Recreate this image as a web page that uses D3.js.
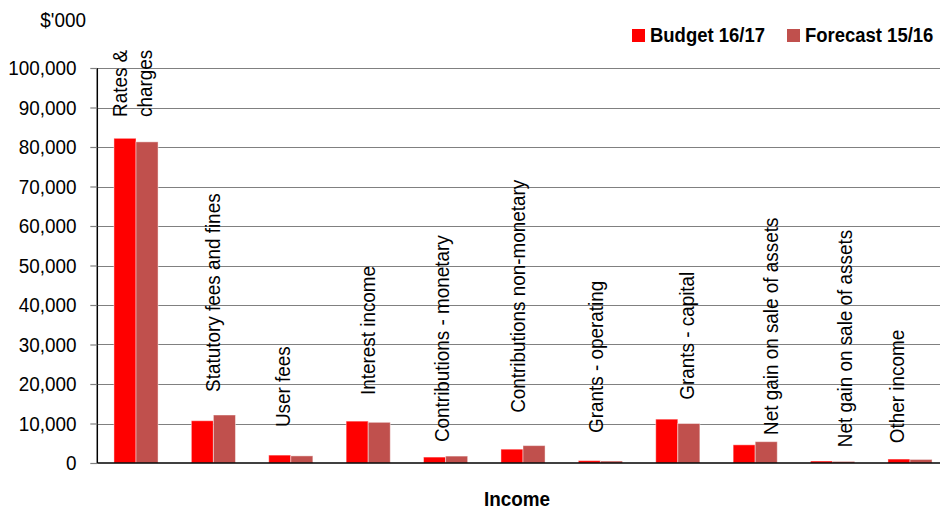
<!DOCTYPE html>
<html>
<head>
<meta charset="utf-8">
<script src="https://cdn.jsdelivr.net/npm/d3@7"></script>
<style>
  body { margin: 0; background: #fff; }
  svg { display: block; font-family: "Liberation Sans", Arial, sans-serif; }
</style>
</head>
<body>
<div id="chart"></div>
<script>
// income categories (two-line label uses \n)
let categories = ["Rates &\ncharges", "Statutory fees and fines", "User fees", "Interest income",
    "Contributions - monetary", "Contributions non-monetary", "Grants - operating",
    "Grants - capital", "Net gain on sale of assets", "Net gain on sale of assets", "Other income"];
let seriesNames = ["Budget 16/17", "Forecast 15/16"];
let budget = [82200, 10700, 2000, 10600, 1500, 3500, 600, 11100, 4600, 500, 1000];
let forecast = [81300, 12150, 1800, 10300, 1750, 4400, 500, 10000, 5400, 400, 900];
// value where each rotated category label starts (labels sit above the bars)
let labelStart = [87600, 18000, 9100, 17200, 5300, 12700, 7600, 16000, 7100, 4000, 5000];
let yTicks = [0, 10000, 20000, 30000, 40000, 50000, 60000, 70000, 80000, 90000, 100000];

// label nudges (px) - labels were dragged around by hand in the original
let labelNudge = [-4, -1, -8, -1, -4, -5, -5, 9, 15, 12, -13];

const width = 940, height = 510;
const margin = {top: 68, left: 97.3, bottom: 47};
const plotW = 851.4;
const colors = {"Budget 16/17": "#ff0000", "Forecast 15/16": "#c0504d"};
// the original font is a bit condensed: bigger size, squeezed along the text
const fontSize = "21px", squeeze = 0.9;

const svg = d3.select("#chart").append("svg")
    .attr("width", width)
    .attr("height", height);

const y = d3.scaleLinear()
    .domain([0, 100000])
    .range([height - margin.bottom, margin.top]);

const x0 = d3.scaleBand()
    .domain(d3.range(categories.length))
    .range([margin.left, margin.left + plotW]);

const x1 = d3.scaleBand()
    .domain(seriesNames)
    .range([x0.bandwidth() * 0.215, x0.bandwidth() * 0.785]);

// gridlines
svg.append("g")
    .selectAll("line")
    .data(yTicks.slice(1))
    .join("line")
    .attr("x1", margin.left)
    .attr("x2", width)
    .attr("y1", d => Math.round(y(d)) + 0.5)
    .attr("y2", d => Math.round(y(d)) + 0.5)
    .attr("stroke", "#808080")
    .attr("stroke-width", 1.2);

// y axis
const yAxis = d3.axisLeft(y)
    .tickValues(yTicks)
    .tickSize(7)
    .tickPadding(16)
    .tickFormat(d3.format(","));

svg.append("g")
    .attr("transform", `translate(${margin.left},0)`)
    .call(yAxis)
    .call(g => g.selectAll(".tick line").attr("stroke", "#808080").attr("stroke-width", 1.2))
    .call(g => g.select(".domain").attr("stroke", "#000").attr("stroke-width", 1.5).attr("d", `M0,${y(100000)}V${y(0)}`))
    .call(g => g.selectAll(".tick text")
        .attr("fill", "#000")
        .attr("transform", `scale(${squeeze},1)`)
        .style("font-size", fontSize)
        .style("font-family", '"Liberation Sans", Arial, sans-serif'));

// bars
const rows = categories.map((c, i) => ({i: i, values: [budget[i], forecast[i]]}));

svg.append("g")
    .selectAll("g")
    .data(rows)
    .join("g")
    .attr("transform", d => `translate(${x0(d.i)},0)`)
    .selectAll("rect")
    .data(d => d.values.map((v, k) => ({key: seriesNames[k], value: v})))
    .join("rect")
    .attr("x", d => x1(d.key))
    .attr("width", x1.bandwidth())
    .attr("y", d => y(d.value))
    .attr("height", d => y(0) - y(d.value))
    .attr("fill", d => colors[d.key])
    .attr("stroke", "rgba(255,255,255,0.45)")
    .attr("stroke-width", 1);

// x axis baseline
svg.append("line")
    .attr("x1", margin.left)
    .attr("x2", width)
    .attr("y1", y(0))
    .attr("y2", y(0))
    .attr("stroke", "#000")
    .attr("stroke-width", 1.5);

// rotated category labels
const labels = svg.append("g")
    .selectAll("text")
    .data(categories)
    .join("text")
    .attr("transform", (d, i) => {
        let cx = x0(i) + x0.bandwidth() / 2 + labelNudge[i];
        return `translate(${cx},${y(labelStart[i])}) rotate(-90) scale(${squeeze},1)`;
    })
    .attr("text-anchor", "start")
    .style("font-size", fontSize)
    .attr("fill", "#000");

labels.each(function (d) {
    const lines = d.split("\n");
    const t = d3.select(this);
    lines.forEach((ln, k) => {
        t.append("tspan")
            .attr("x", 0)
            .attr("dy", k === 0 ? (0.35 - (lines.length - 1) * 0.57) + "em" : "1.15em")
            .text(ln);
    });
});

// unit label
svg.append("g")
    .attr("transform", "translate(86,27)")
    .append("text")
    .attr("transform", `scale(${squeeze},1)`)
    .attr("text-anchor", "end")
    .style("font-size", fontSize)
    .text("$'000");

// x axis title
svg.append("g")
    .attr("transform", "translate(517,506)")
    .append("text")
    .attr("transform", `scale(${squeeze},1)`)
    .attr("text-anchor", "middle")
    .style("font-size", fontSize)
    .style("font-weight", "bold")
    .text("Income");

// legend
const legendX = [632, 787];
const legend = svg.append("g")
    .selectAll("g")
    .data(seriesNames)
    .join("g")
    .attr("transform", (d, i) => `translate(${legendX[i]},29)`);

legend.append("rect")
    .attr("width", 13)
    .attr("height", 13)
    .attr("fill", d => colors[d]);

legend.append("text")
    .attr("transform", `translate(18,13) scale(0.88,1)`)
    .style("font-size", fontSize)
    .style("font-weight", "bold")
    .text(d => d);
</script>
</body>
</html>
